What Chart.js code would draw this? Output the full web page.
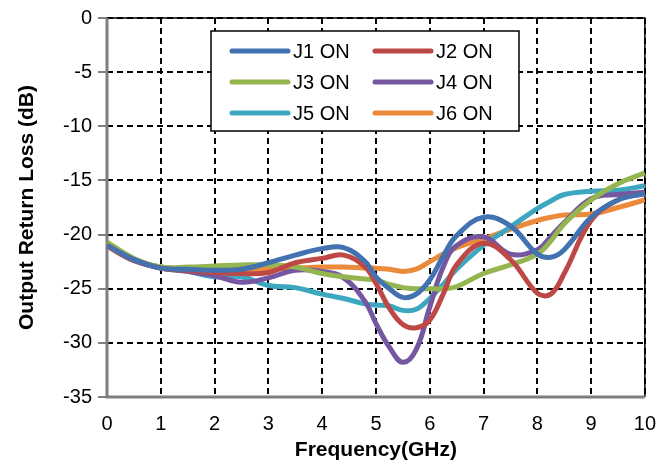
<!DOCTYPE html>
<html>
<head>
<meta charset="utf-8">
<script src="https://cdn.jsdelivr.net/npm/chart.js@4.4.0/dist/chart.umd.min.js"></script>
<style>
  html, body { margin: 0; padding: 0; background: #fff; }
</style>
</head>
<body>
<canvas id="chart" width="671" height="463"></canvas>
<script>
// frequency points (GHz) shared by all curves
const freq = [0, 0.5, 1, 1.5, 2, 2.5, 3, 3.5, 4, 4.4, 4.8, 5, 5.25, 5.5, 5.75, 6, 6.25, 6.5, 7, 7.5, 8, 8.25, 8.5, 9, 9.5, 10];

const j1 = [-21.0, -22.3, -23.1, -23.2, -23.3, -23.2, -22.6, -21.9, -21.3, -21.2, -22.5, -23.9, -25.0, -25.8, -25.5, -24.2, -22.0, -20.1, -18.4, -19.2, -21.8, -22.1, -21.4, -18.4, -16.8, -16.2];
const j2 = [-21.0, -22.3, -23.1, -23.3, -23.5, -23.6, -23.5, -22.6, -22.2, -21.9, -23.0, -24.5, -26.8, -28.3, -28.6, -27.9, -25.5, -22.8, -20.8, -22.3, -25.4, -25.5, -23.6, -18.7, -16.8, -16.2];
const j3 = [-20.7, -22.2, -23.0, -23.0, -22.9, -22.8, -22.8, -23.0, -23.6, -23.9, -24.1, -24.2, -24.6, -24.9, -25.0, -25.0, -25.0, -24.8, -23.6, -22.8, -21.8, -20.6, -19.0, -16.8, -15.3, -14.3];
const j4 = [-21.0, -22.4, -23.1, -23.4, -23.8, -24.4, -24.0, -23.3, -23.4, -24.0, -26.2, -28.2, -30.4, -31.8, -30.6, -26.7, -23.0, -21.0, -20.2, -21.8, -21.4, -20.2, -18.9, -16.7, -16.3, -16.1];
const j5 = [-21.0, -22.3, -23.0, -23.4, -23.9, -23.9, -24.7, -24.9, -25.5, -25.9, -26.4, -26.5, -26.6, -27.0, -26.9, -25.9, -24.6, -23.2, -21.0, -19.3, -17.6, -16.9, -16.3, -16.0, -15.9, -15.5];
const j6 = [-21.1, -22.4, -23.0, -23.2, -23.2, -23.2, -23.2, -23.1, -23.0, -23.0, -23.1, -23.1, -23.2, -23.4, -23.2, -22.5, -21.8, -21.2, -20.4, -19.5, -18.7, -18.4, -18.2, -18.1, -17.5, -16.8];

const seriesNames = ['J1 ON', 'J2 ON', 'J3 ON', 'J4 ON', 'J5 ON', 'J6 ON'];
const seriesData = [j1, j2, j3, j4, j5, j6];
const seriesColors = ['#4372B0', '#BE4845', '#94B550', '#7556A0', '#3EA7C0', '#EC8A3C'];

const xTicks = [0, 1, 2, 3, 4, 5, 6, 7, 8, 9, 10];
const yTicks = [0, -5, -10, -15, -20, -25, -30, -35];

const FONT = '"Liberation Sans", Arial, sans-serif';

function pts(vals) {
  return freq.map((f, i) => ({ x: f, y: vals[i] }));
}

// plot frame: gray left/bottom axes, thin black top/right
const framePlugin = {
  id: 'frame',
  beforeDatasetsDraw(chart) {
    const a = chart.chartArea, ctx = chart.ctx;
    ctx.save();
    ctx.strokeStyle = '#000';
    ctx.lineWidth = 1.5;
    ctx.beginPath();
    ctx.moveTo(a.left, a.top);
    ctx.lineTo(a.right, a.top);
    ctx.lineTo(a.right, a.bottom);
    ctx.stroke();
    ctx.strokeStyle = '#7f7f7f';
    ctx.lineWidth = 3;
    ctx.beginPath();
    ctx.moveTo(a.left, a.top);
    ctx.lineTo(a.left, a.bottom);
    ctx.lineTo(a.right, a.bottom);
    ctx.stroke();
    ctx.restore();
  }
};

// boxed legend inside the plot, two columns
const legendBox = {
  id: 'legendBox',
  afterDraw(chart) {
    const ctx = chart.ctx;
    const bx = 211, by = 31, bw = 308, bh = 100;
    ctx.save();
    ctx.fillStyle = '#fff';
    ctx.fillRect(bx, by, bw, bh);
    ctx.strokeStyle = '#000';
    ctx.lineWidth = 1.5;
    ctx.strokeRect(bx, by, bw, bh);
    ctx.font = '20px ' + FONT;
    ctx.textBaseline = 'middle';
    ctx.lineCap = 'round';
    chart.data.datasets.forEach((ds, i) => {
      const col = i % 2, row = Math.floor(i / 2);
      const lx = bx + 21 + col * 143;
      const ly = by + 20 + row * 31;
      ctx.strokeStyle = ds.borderColor;
      ctx.lineWidth = 5;
      ctx.beginPath();
      ctx.moveTo(lx, ly);
      ctx.lineTo(lx + 56, ly);
      ctx.stroke();
      ctx.fillStyle = '#000';
      ctx.fillText(ds.label, lx + 61, ly + 1);
    });
    ctx.restore();
  }
};

new Chart(document.getElementById('chart'), {
  type: 'line',
  data: {
    datasets: seriesNames.map((name, i) => ({
      label: name,
      data: pts(seriesData[i]),
      borderColor: seriesColors[i],
      backgroundColor: seriesColors[i],
      borderWidth: 5,
      pointRadius: 0,
      tension: 0.4,
      fill: false
    }))
  },
  options: {
    responsive: false,
    animation: false,
    layout: { padding: { top: 17, right: 24, left: 0, bottom: 0 } },
    plugins: {
      legend: { display: false },
      tooltip: { enabled: false }
    },
    scales: {
      x: {
        type: 'linear',
        min: 0,
        max: 10,
        afterBuildTicks(s) { s.ticks = xTicks.map(v => ({ value: v })); },
        afterFit(s) { s.height = 66; },
        grid: { color: '#000', lineWidth: 2, drawTicks: false },
        border: { display: false, dash: [6, 4] },
        ticks: {
          color: '#000',
          padding: 15,
          maxRotation: 0,
          font: { size: 20, family: FONT }
        },
        title: {
          display: true,
          text: 'Frequency(GHz)',
          color: '#000',
          padding: { top: 0, bottom: 0 },
          font: { size: 21, weight: 'bold', family: FONT }
        }
      },
      y: {
        min: -35,
        max: 0,
        afterBuildTicks(s) { s.ticks = yTicks.map(v => ({ value: v })); },
        afterFit(s) { s.width = 107; },
        grid: { color: '#000', lineWidth: 2, tickLength: 9, tickColor: '#7f7f7f', tickBorderDash: [] },
        border: { display: false, dash: [6, 4] },
        ticks: {
          color: '#000',
          padding: 6,
          font: { size: 20, family: FONT }
        },
        title: {
          display: true,
          text: 'Output Return Loss (dB)',
          color: '#000',
          padding: { top: 15, bottom: 0 },
          font: { size: 21, weight: 'bold', family: FONT }
        }
      }
    }
  },
  plugins: [framePlugin, legendBox]
});
</script>
</body>
</html>
